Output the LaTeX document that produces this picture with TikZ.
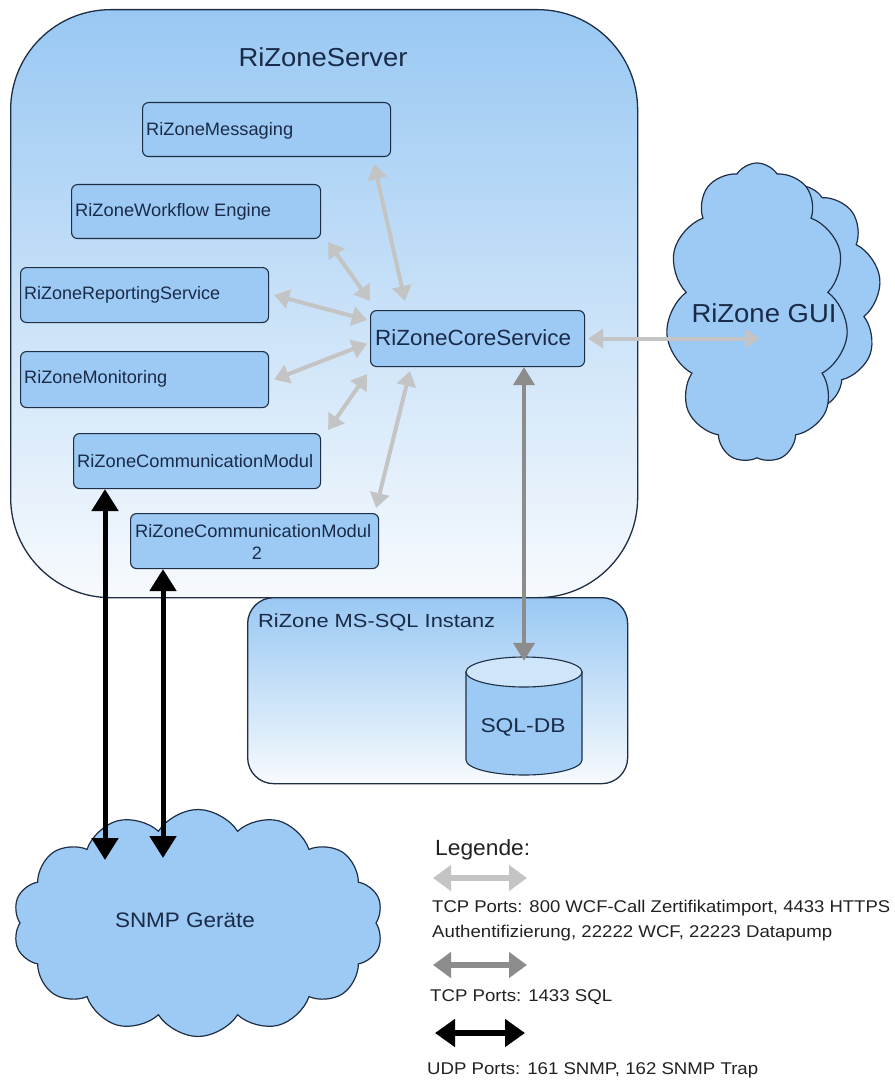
\documentclass[tikz,border=0pt]{standalone}
\usepackage{fontspec}
\setmainfont{Liberation Sans}
\usepackage{graphicx}
\usetikzlibrary{arrows.meta,shapes.symbols,calc}
\definecolor{boxfill}{HTML}{9DCAF4}
\definecolor{edge}{HTML}{1E2E44}
\definecolor{txt}{HTML}{1A2B48}
\definecolor{lightarr}{HTML}{C4C4C4}
\definecolor{midarr}{HTML}{8C8C8C}
\definecolor{topblue}{HTML}{99C8F3}
\definecolor{botblue}{HTML}{F7FAFD}
\definecolor{dbtop}{HTML}{CFE5FA}
\definecolor{legtxt}{HTML}{222222}
\newcommand{\fw}[2]{\resizebox{#1pt}{\height}{#2}}
\newcommand{\fsz}[1]{\fontsize{#1pt}{#1pt}\selectfont}
\begin{document}
\begin{tikzpicture}[x=1pt,y=-1pt,
  box/.style={draw=edge,line width=1.1pt,fill=boxfill,rounded corners=6pt,anchor=north west,inner sep=0pt},
  container/.style={draw=edge,line width=1.3pt,top color=topblue,bottom color=botblue,anchor=north west,inner sep=0pt},
  lbl/.style={text=txt,inner sep=0pt,anchor=west,font=\fsz{18}},
  clbl/.style={text=txt,inner sep=0pt,anchor=center},
  legtext/.style={text=legtxt,inner sep=0pt,anchor=west,font=\fsz{17}},
  cloudnode/.style={cloud,cloud ignores aspect,draw=edge,line width=1.2pt,fill=boxfill,inner sep=0pt},
  lightlink/.style={draw=lightarr,line width=4pt,{Triangle[width=19pt,length=15pt]}-{Triangle[width=19pt,length=15pt]}},
  sqllink/.style={draw=midarr,line width=4pt,{Triangle[width=21pt,length=18pt]}-{Triangle[width=21pt,length=18pt]}},
  udplink/.style={draw=black,line width=5pt,{Triangle[width=26pt,length=22pt]}-{Triangle[width=26pt,length=22pt]}},
  leglight/.style={draw=lightarr,line width=6pt,{Triangle[width=25pt,length=18pt]}-{Triangle[width=25pt,length=18pt]}},
  legmid/.style={draw=midarr,line width=6pt,{Triangle[width=25pt,length=18pt]}-{Triangle[width=25pt,length=18pt]}},
  legblack/.style={draw=black,line width=6pt,{Triangle[width=27pt,length=20pt]}-{Triangle[width=27pt,length=20pt]}}
]
\useasboundingbox[fill=white] (0,0) rectangle (894,1083);

% containers
\node[container,rounded corners=100pt,minimum width=627pt,minimum height=588pt] (server) at (10,9) {};
\node[clbl,font=\fsz{26}] (servert) at (323,57) {\fw{169}{RiZoneServer}};
\node[container,rounded corners=26pt,minimum width=380pt,minimum height=186pt] (sqlinst) at (247,597) {};
\node[lbl,font=\fsz{19}] (sqlinstt) at (258,622) {\fw{237}{RiZone MS-SQL Instanz}};

% service boxes
\node[box,minimum width=248pt,minimum height=54pt] (msg) at (142,102) {};
\node[lbl] (msgt) at (146,131) {\fw{147}{RiZoneMessaging}};
\node[box,minimum width=249pt,minimum height=54pt] (wf) at (71,184) {};
\node[lbl] (wft) at (75,212) {\fw{196}{RiZoneWorkflow Engine}};
\node[box,minimum width=248pt,minimum height=55pt] (rep) at (20,267) {};
\node[lbl] (rept) at (24,295) {\fw{196}{RiZoneReportingService}};
\node[box,minimum width=248pt,minimum height=56pt] (mon) at (20,351) {};
\node[lbl] (mont) at (24,379) {\fw{143}{RiZoneMonitoring}};
\node[box,minimum width=247pt,minimum height=55pt] (cmone) at (73,433) {};
\node[lbl] (cmonet) at (77,461) {\fw{236}{RiZoneCommunicationModul}};
\node[box,minimum width=248pt,minimum height=55pt] (cmtwo) at (130,513) {};
\node[lbl] (cmtwot) at (135,531) {\fw{236}{RiZoneCommunicationModul}};
\node[clbl,font=\fsz{18}] (cmtwon) at (257,553) {2};
\node[box,minimum width=214pt,minimum height=56pt] (core) at (370,310) {};
\node[lbl,font=\fsz{22}] (coret) at (375,338) {\fw{196}{RiZoneCoreService}};

% database cylinder
\node[inner sep=0pt,minimum width=116pt,minimum height=118pt] (db) at (524,716) {};
\path[fill=boxfill,draw=edge,line width=1.1pt] (466,672) -- (466,760)
  arc[start angle=180,end angle=0,x radius=58,y radius=15] -- (582,672) -- cycle;
\path[fill=dbtop,draw=edge,line width=1.1pt] (524,672) ellipse [x radius=58,y radius=15];
\node[clbl,font=\fsz{20}] (dbt) at (523,727) {\fw{85}{SQL-DB}};

% clouds
\node[cloudnode,cloud puffs=9,cloud puff arc=115,minimum width=162pt,minimum height=225pt] (guiback) at (800,298) {};
\node[cloudnode,cloud puffs=11,cloud puff arc=115,minimum width=182pt,minimum height=300pt] (gui) at (757,313) {};
\node[clbl,font=\fsz{26}] (guit) at (764,313) {\fw{145}{RiZone GUI}};
\node[cloudnode,cloud puffs=14,cloud puff arc=115,minimum width=370pt,minimum height=227pt] (snmp) at (198,923) {};
\node[clbl,font=\fsz{21}] (snmpt) at (185,920) {\fw{140}{SNMP Geräte}};

% connectors
\draw[lightlink] ([xshift=-17pt,yshift=-7pt]msg.south east) -- ([xshift=35pt,yshift=9pt]core.north west);
\draw[lightlink] ([xshift=7pt,yshift=-3pt]wf.south east) -- ([yshift=9pt]core.north west);
\draw[lightlink] ([xshift=5pt]rep.east) -- ([xshift=-3pt,yshift=-10pt]core.north west);
\draw[lightlink] ([xshift=5pt]mon.east) -- ([xshift=-3pt,yshift=-5pt]core.west);
\draw[lightlink] ([xshift=7pt,yshift=3pt]cmone.north east) -- ([xshift=-3pt,yshift=-7pt]core.south west);
\draw[lightlink] ([xshift=-3pt,yshift=5pt]cmtwo.north east) -- ([xshift=40pt,yshift=-4pt]core.south west);
\coordinate (guiend) at ($(core.east -| guit.center)+(-4,0)$);
\draw[lightlink] ([xshift=3pt]core.east) -- (guiend);
\draw[sqllink] (core.south -| db.north) -- ([yshift=-4pt]db.north);
\coordinate (sone) at (105,860);
\coordinate (stwo) at (163,858);
\draw[udplink] (sone |- cmone.south) -- (sone);
\draw[udplink] (stwo |- cmtwo.south) -- (stwo);

% legend
\node[text=legtxt,inner sep=0pt,anchor=west,font=\fsz{22}] (legh) at (435,850) {\fw{95}{Legende:}};
\coordinate (la) at (433,878); \coordinate (lb) at (527,878);
\draw[leglight] (la) -- (lb);
\node[legtext] (legone) at (432,908) {\fw{458}{TCP Ports: 800 WCF-Call Zertifikatimport, 4433 HTTPS}};
\node[legtext] (legtwo) at (432,933) {\fw{400}{Authentifizierung, 22222 WCF, 22223 Datapump}};
\coordinate (ma) at (433,965); \coordinate (mb) at (527,965);
\draw[legmid] (ma) -- (mb);
\node[legtext] (legthree) at (430,997) {\fw{182}{TCP Ports: 1433 SQL}};
\coordinate (ba) at (435,1033); \coordinate (bb) at (525,1033);
\draw[legblack] (ba) -- (bb);
\node[legtext] (legfour) at (427,1070) {\fw{331}{UDP Ports: 161 SNMP, 162 SNMP Trap}};
\end{tikzpicture}
\end{document}
